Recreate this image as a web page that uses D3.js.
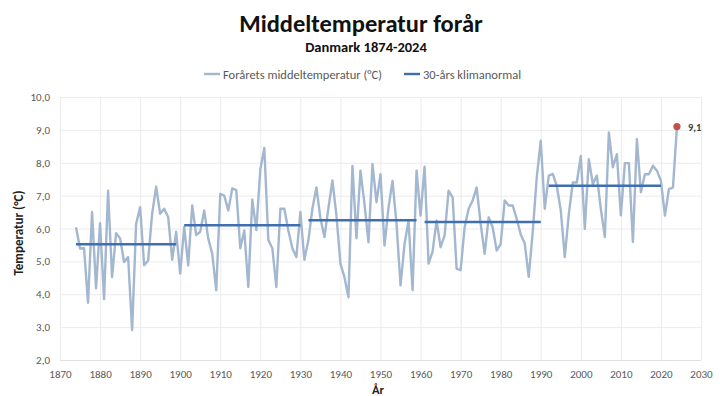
<!DOCTYPE html>
<html>
<head>
<meta charset="utf-8">
<script src="https://cdn.jsdelivr.net/npm/d3@7"></script>
<style>
  body { margin: 0; background: #fff; }
  svg { font-family: Carlito, Lato, "Open Sans", sans-serif; }
</style>
</head>
<body>
<svg id="chart" width="720" height="396"></svg>
<script>
// spring mean temperature, Denmark, one value per year from 1874
const startYear = 1874;
const temps = [
  6.04, 5.39, 5.40, 3.74, 6.50, 4.18,                               // 1874-1879
  6.16, 3.85, 7.15, 4.52, 5.86, 5.70, 4.98, 5.13, 2.91, 6.14,       // 1880s
  6.65, 4.88, 5.03, 6.45, 7.27, 6.45, 6.60, 6.35, 5.05, 5.90,       // 1890s
  4.63, 6.05, 4.88, 6.70, 5.80, 5.90, 6.55, 5.70, 5.23, 4.12,       // 1900s
  7.05, 7.00, 6.55, 7.22, 7.17, 5.40, 5.94, 4.22, 6.88, 5.95,       // 1910s
  7.80, 8.45, 5.66, 5.40, 4.22, 6.60, 6.60, 5.94, 5.40, 5.13,       // 1920s
  6.50, 5.05, 5.64, 6.60, 7.25, 6.32, 5.74, 6.62, 7.46, 6.40,       // 1930s
  4.93, 4.52, 3.91, 7.90, 5.70, 7.76, 6.75, 5.58, 7.96, 6.80,       // 1940s
  7.65, 5.48, 6.64, 7.45, 6.14, 4.27, 5.53, 6.24, 4.12, 7.76,       // 1950s
  6.39, 7.88, 4.93, 5.30, 6.24, 5.43, 5.79, 7.15, 6.95, 4.78,       // 1960s
  4.73, 6.04, 6.60, 6.85, 7.25, 6.14, 5.23, 6.34, 6.04, 5.33,       // 1970s
  5.53, 6.85, 6.70, 6.70, 6.29, 5.82, 5.55, 4.53, 5.90, 7.55,       // 1980s
  8.67, 6.60, 7.61, 7.66, 7.30, 6.55, 5.13, 6.44, 7.40, 7.40,       // 1990s
  8.21, 5.99, 8.11, 7.35, 7.61, 6.60, 5.74, 8.92, 7.86, 8.26,       // 2000s
  6.40, 7.99, 7.99, 5.59, 8.72, 7.10, 7.65, 7.65, 7.91, 7.76,       // 2010s
  7.45, 6.39, 7.20, 7.25, 9.10                                      // 2020-2024
];

// 30-year climate normals
const normalFrom = [1874, 1901, 1932, 1961, 1992];
const normalTo = [1899, 1930, 1959, 1990, 2020];
const normalValue = [5.52, 6.10, 6.25, 6.20, 7.30];

const xTicks = [1870, 1880, 1890, 1900, 1910, 1920, 1930, 1940, 1950, 1960, 1970, 1980, 1990, 2000, 2010, 2020, 2030];
const yTicks = [2, 3, 4, 5, 6, 7, 8, 9, 10];

const series = temps.map((t, i) => ({ year: startYear + i, t: t }));
const normals = normalValue.map((v, i) => ({ from: normalFrom[i], to: normalTo[i], v: v }));
const last = series[series.length - 1];

const svg = d3.select("#chart");
const plotLeft = 60, plotRight = 701, plotTop = 97, plotBottom = 360;

const x = d3.scaleLinear().domain([1870, 2030]).range([plotLeft, plotRight]);
const y = d3.scaleLinear().domain([2, 10]).range([plotBottom, plotTop]);

const fmt = d => d3.format(".1f")(d).replace(".", ",");

// grid + axes
const gx = svg.append("g")
    .attr("transform", `translate(0,${plotBottom})`)
    .call(d3.axisBottom(x).tickValues(xTicks).tickFormat(d3.format("d"))
        .tickSize(-(plotBottom - plotTop)).tickPadding(10));

const gy = svg.append("g")
    .attr("transform", `translate(${plotLeft},0)`)
    .call(d3.axisLeft(y).tickValues(yTicks).tickFormat(fmt)
        .tickSize(-(plotRight - plotLeft)).tickPadding(10));

[gx, gy].forEach(g => {
    g.select(".domain").remove();
    g.selectAll(".tick line").attr("stroke", "#ebebeb").attr("stroke-width", 1);
    g.selectAll(".tick text").attr("fill", "#595959").style("font-size", "11px")
        .style("font-family", "Carlito, Lato, sans-serif");
});
gy.select(".tick line").attr("stroke", "#e0e0e0");

// yearly line
svg.append("path")
    .datum(series)
    .attr("fill", "none")
    .attr("stroke", "#a3b7d0")
    .attr("stroke-width", 2.4)
    .attr("stroke-linejoin", "round")
    .attr("d", d3.line().x(d => x(d.year)).y(d => y(d.t)));

// normals
svg.selectAll(".normal")
    .data(normals)
    .enter()
    .append("line")
    .attr("class", "normal")
    .attr("x1", d => x(d.from))
    .attr("x2", d => x(d.to))
    .attr("y1", d => y(d.v))
    .attr("y2", d => y(d.v))
    .attr("stroke", "#3f6fb0")
    .attr("stroke-width", 2.4);

// last year marker
svg.append("circle")
    .attr("cx", x(last.year))
    .attr("cy", y(last.t))
    .attr("r", 3.6)
    .attr("fill", "#c0504d");

svg.append("text")
    .attr("x", x(last.year) + 11)
    .attr("y", y(last.t) + 4)
    .attr("font-size", 10.5)
    .attr("font-weight", "bold")
    .attr("fill", "#404040")
    .text(fmt(last.t));

// titles
svg.append("text")
    .attr("x", 361).attr("y", 32)
    .attr("text-anchor", "middle")
    .attr("font-size", 24.5)
    .attr("font-weight", "bold")
    .attr("fill", "#111")
    .text("Middeltemperatur forår");

svg.append("text")
    .attr("x", 366).attr("y", 52)
    .attr("text-anchor", "middle")
    .attr("font-size", 14.5)
    .attr("font-weight", "bold")
    .attr("fill", "#111")
    .text("Danmark 1874-2024");

// legend
const legend = [
    { label: "Forårets middeltemperatur (°C)", color: "#a3b7d0", x: 204 },
    { label: "30-års klimanormal", color: "#3f6fb0", x: 404 }
];
const lg = svg.selectAll(".legend")
    .data(legend)
    .enter()
    .append("g")
    .attr("transform", d => `translate(${d.x},74)`);
lg.append("line")
    .attr("x1", 0).attr("x2", 16)
    .attr("stroke", d => d.color)
    .attr("stroke-width", 2.4);
lg.append("text")
    .attr("x", 19).attr("y", 4.5)
    .attr("font-size", 12.5)
    .attr("fill", "#595959")
    .text(d => d.label);

// axis titles
svg.append("text")
    .attr("transform", "translate(23,233) rotate(-90)")
    .attr("text-anchor", "middle")
    .attr("font-size", 13)
    .attr("font-weight", "bold")
    .attr("fill", "#222")
    .text("Temperatur (°C)");

svg.append("text")
    .attr("x", 378).attr("y", 394)
    .attr("text-anchor", "middle")
    .attr("font-size", 12.5)
    .attr("font-weight", "bold")
    .attr("fill", "#222")
    .text("År");
</script>
</body>
</html>
